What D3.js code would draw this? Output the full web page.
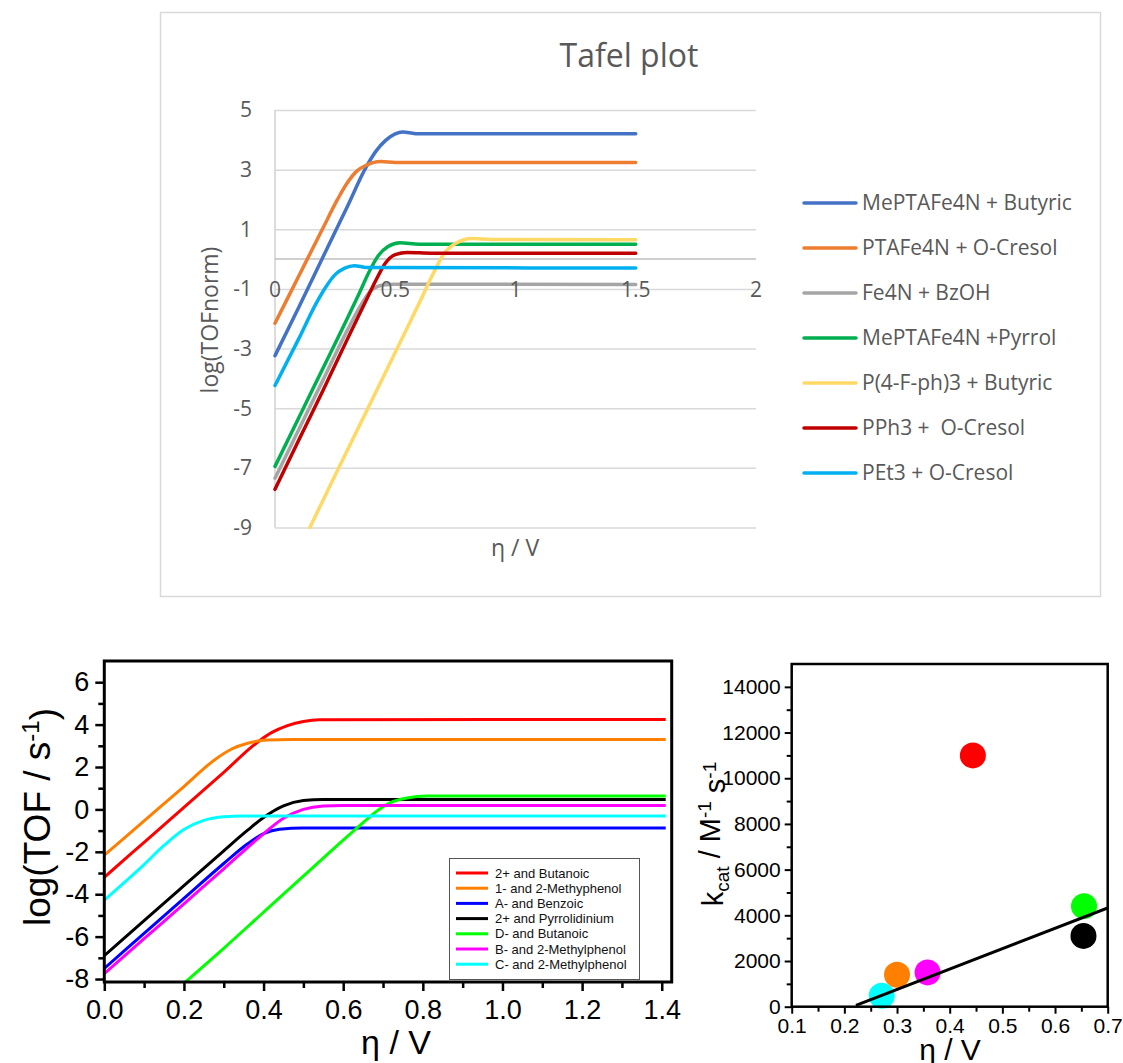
<!DOCTYPE html>
<html>
<head>
<meta charset="utf-8">
<script src="https://cdn.jsdelivr.net/npm/d3@7"></script>
<style>
  body { margin: 0; background: #fff; }
  svg { display: block; }
</style>
</head>
<body>
<div id="chart"></div>
<script>
// --- Page ---
const W = 1123, H = 1063;
const excelFont = "'Open Sans', 'Noto Sans', sans-serif";
const originFont = "'Liberation Sans', Arial, sans-serif";

// --- Data: Tafel plot (top, Excel chart) ---  [eta (V), log(TOFnorm)]
const tafelNames = [
  "MePTAFe4N + Butyric", "PTAFe4N + O-Cresol", "Fe4N + BzOH", "MePTAFe4N +Pyrrol",
  "P(4-F-ph)3 + Butyric", "PPh3 +  O-Cresol", "PEt3 + O-Cresol"
];
const tafelColors = ["#4472C4", "#ED7D31", "#A5A5A5", "#00B050", "#FFD966", "#C00000", "#00B0F0"];
const tafelMePTAButyric = [[0,-3.24],[0.1,-1.6],[0.2,0.08],[0.3,1.75],[0.38,3.1],[0.42,3.62],[0.46,3.98],[0.5,4.2],[0.53,4.26],[0.6,4.2],[1.5,4.2]];
const tafelPTACresol    = [[0,-2.15],[0.1,-0.55],[0.2,1.05],[0.26,2.0],[0.3,2.55],[0.34,2.95],[0.38,3.15],[0.44,3.27],[0.5,3.24],[1.5,3.24]];
const tafelFe4NBzOH     = [[0,-7.35],[0.1,-5.7],[0.2,-4.05],[0.3,-2.4],[0.36,-1.5],[0.4,-1.05],[0.45,-0.87],[0.5,-0.84],[1.5,-0.85]];
const tafelMePTAPyrrol  = [[0,-6.95],[0.1,-5.3],[0.2,-3.65],[0.3,-2.0],[0.35,-1.15],[0.39,-0.45],[0.43,0.12],[0.47,0.42],[0.52,0.55],[0.6,0.5],[1.5,0.5]];
const tafelPFphButyric  = [[0.145,-9],[0.25,-7.25],[0.35,-5.6],[0.45,-3.95],[0.55,-2.3],[0.61,-1.3],[0.66,-0.45],[0.7,0.15],[0.75,0.52],[0.82,0.69],[0.9,0.66],[1.5,0.65]];
const tafelPPh3Cresol   = [[0,-7.72],[0.1,-6.05],[0.2,-4.4],[0.3,-2.7],[0.375,-1.45],[0.42,-0.7],[0.46,-0.12],[0.5,0.15],[0.55,0.22],[0.65,0.2],[1.5,0.2]];
const tafelPEt3Cresol   = [[0,-4.24],[0.1,-2.65],[0.17,-1.5],[0.21,-0.95],[0.25,-0.52],[0.29,-0.3],[0.33,-0.22],[0.38,-0.28],[1.5,-0.3]];
const tafelSeries = [tafelMePTAButyric, tafelPTACresol, tafelFe4NBzOH, tafelMePTAPyrrol,
                     tafelPFphButyric, tafelPPh3Cresol, tafelPEt3Cresol];
const tafelYTicks = [-9, -7, -5, -3, -1, 1, 3, 5];
const tafelXTicks = [0, 0.5, 1, 1.5, 2];

// --- Data: log(TOF) vs eta (bottom left, Origin chart) ---
const tofNames = [
  "2+ and Butanoic", "1- and 2-Methyphenol", "A- and Benzoic", "2+ and Pyrrolidinium",
  "D- and Butanoic", "B- and 2-Methylphenol", "C- and 2-Methylphenol"
];
const tofColors = ["#FF0000", "#FF8000", "#0000FF", "#000000", "#00FF00", "#FF00FF", "#00FFFF"];
const tofButanoic2p   = [[0,-3.2],[0.1,-1.55],[0.2,0.1],[0.3,1.75],[0.38,3.1],[0.42,3.62],[0.46,3.95],[0.5,4.15],[0.54,4.23],[1.41,4.24]];
const tofMethyphenol1 = [[0,-2.16],[0.1,-0.54],[0.2,1.08],[0.28,2.38],[0.32,2.85],[0.36,3.12],[0.41,3.27],[0.47,3.3],[1.41,3.3]];
const tofBenzoicA     = [[0,-7.5],[0.1,-5.85],[0.2,-4.2],[0.3,-2.55],[0.36,-1.62],[0.4,-1.14],[0.44,-0.93],[0.5,-0.88],[1.41,-0.88]];
const tofPyrrolid2p   = [[0,-6.9],[0.1,-5.25],[0.2,-3.6],[0.3,-1.95],[0.36,-0.98],[0.4,-0.38],[0.45,0.17],[0.5,0.42],[0.55,0.47],[1.41,0.47]];
const tofButanoicD    = [[0.2,-8.2],[0.3,-6.55],[0.4,-4.85],[0.5,-3.15],[0.6,-1.45],[0.65,-0.62],[0.69,0.0],[0.72,0.33],[0.76,0.54],[0.81,0.63],[1.41,0.63]];
const tofMethylphB    = [[0,-7.75],[0.1,-6.1],[0.2,-4.45],[0.3,-2.8],[0.4,-1.15],[0.45,-0.42],[0.5,0.0],[0.55,0.16],[0.6,0.19],[1.41,0.19]];
const tofMethylphC    = [[0,-4.28],[0.05,-3.45],[0.1,-2.6],[0.15,-1.7],[0.2,-0.95],[0.25,-0.52],[0.3,-0.35],[0.35,-0.31],[1.41,-0.31]];
const tofSeries = [tofButanoic2p, tofMethyphenol1, tofBenzoicA, tofPyrrolid2p, tofButanoicD, tofMethylphB, tofMethylphC];
const tofYMajor = [-8, -6, -4, -2, 0, 2, 4, 6];
const tofYMinor = [-7, -5, -3, -1, 1, 3, 5];
const tofXMajor = [0, 0.2, 0.4, 0.6, 0.8, 1.0, 1.2, 1.4];
const tofXMinor = [0.1, 0.3, 0.5, 0.7, 0.9, 1.1, 1.3];

// --- Data: kcat vs eta (bottom right) ---
const kcatColors = ["#FF0000", "#FF8000", "#FF00FF", "#00FFFF", "#00FF00", "#000000"];
const kcatEta    = [0.444, 0.300, 0.358, 0.271, 0.655, 0.654];
const kcatValues = [11000, 1400, 1500, 480, 4400, 3100];
const fitEta  = [0.222, 0.70];
const fitKcat = [60, 4320];
const kcatYMajor = [0, 2000, 4000, 6000, 8000, 10000, 12000, 14000];
const kcatYMinor = [1000, 3000, 5000, 7000, 9000, 11000, 13000];
const kcatXMajor = [0.1, 0.2, 0.3, 0.4, 0.5, 0.6, 0.7];
const kcatXMinor = [0.15, 0.25, 0.35, 0.45, 0.55, 0.65];

// --- SVG ---
const svg = d3.select("#chart").append("svg")
  .attr("width", W).attr("height", H)
  .attr("viewBox", `0 0 ${W} ${H}`);
svg.append("rect").attr("width", W).attr("height", H).attr("fill", "#fff");

const defs = svg.append("defs");
function addClip(id, x, y, w, h) {
  defs.append("clipPath").attr("id", id)
    .append("rect").attr("x", x).attr("y", y).attr("width", w).attr("height", h);
}

// =====================================================================
// Top: Tafel plot
// =====================================================================
(function drawTafel() {
  const g = svg.append("g");
  const grey = "#595959";

  g.append("rect")
    .attr("x", 160.5).attr("y", 12.5).attr("width", 940).attr("height", 584)
    .attr("fill", "#fff").attr("stroke", "#d9d9d9").attr("stroke-width", 1.5);

  const x = d3.scaleLinear().domain([0, 2]).range([275, 756]);
  const y = d3.scaleLinear().domain([-9, 5]).range([527.5, 110]);

  g.append("text")
    .attr("x", 629).attr("y", 67)
    .attr("text-anchor", "middle")
    .style("font-family", excelFont).style("font-size", "32px").style("fill", grey)
    .text("Tafel plot");

  // gridlines
  g.append("g")
    .call(d3.axisLeft(y).tickValues(tafelYTicks).tickSize(-(x(2) - x(0))).tickFormat(() => ""))
    .attr("transform", `translate(${x(0)},0)`)
    .call(a => a.select(".domain").remove())
    .selectAll("line").attr("stroke", "#d9d9d9").attr("stroke-width", 1.5);

  // axis lines (vertical at eta=0, horizontal at y=0)
  g.append("line")
    .attr("x1", x(0)).attr("x2", x(0)).attr("y1", y(5)).attr("y2", y(-9))
    .attr("stroke", "#d0d0d0").attr("stroke-width", 1.5);
  g.append("line")
    .attr("x1", x(0)).attr("x2", x(2)).attr("y1", y(0)).attr("y2", y(0))
    .attr("stroke", "#bfbfbf").attr("stroke-width", 1.5);

  // y tick labels
  g.append("g").selectAll("text").data(tafelYTicks).join("text")
    .attr("x", 252).attr("y", d => y(d)).attr("dy", "0.35em")
    .attr("text-anchor", "end")
    .style("font-family", excelFont).style("font-size", "21px").style("fill", grey)
    .text(d => String(d));

  // series
  const line = d3.line().x(d => x(d[0])).y(d => y(d[1])).curve(d3.curveMonotoneX);
  g.append("g").selectAll("path").data(tafelSeries).join("path")
    .attr("d", line)
    .attr("fill", "none")
    .attr("stroke", (d, i) => tafelColors[i])
    .attr("stroke-width", 3.5)
    .attr("stroke-linecap", "round")
    .attr("stroke-linejoin", "round");

  // x tick labels (sit just under the y=0 axis, over the plot)
  g.append("g").selectAll("text").data(tafelXTicks).join("text")
    .attr("x", d => x(d)).attr("y", 297)
    .attr("text-anchor", "middle")
    .style("font-family", excelFont).style("font-size", "21px").style("fill", grey)
    .text(d => String(d));

  // axis titles
  g.append("text")
    .attr("transform", "translate(218,320) rotate(-90)")
    .attr("text-anchor", "middle")
    .style("font-family", excelFont).style("font-size", "23px").style("fill", grey)
    .text("log(TOFnorm)");
  g.append("text")
    .attr("x", 515).attr("y", 556)
    .attr("text-anchor", "middle")
    .style("font-family", excelFont).style("font-size", "23px").style("fill", grey)
    .text("η / V");

  // legend
  const leg = g.append("g").selectAll("g").data(tafelNames).join("g")
    .attr("transform", (d, i) => `translate(0,${203 + i * 45})`);
  leg.append("line")
    .attr("x1", 804).attr("x2", 856)
    .attr("stroke", (d, i) => tafelColors[i]).attr("stroke-width", 3.5)
    .attr("stroke-linecap", "round");
  leg.append("text")
    .attr("x", 862).attr("dy", "0.35em")
    .style("font-family", excelFont).style("font-size", "21px").style("fill", grey)
    .style("white-space", "pre")
    .text(d => d);
})();

// =====================================================================
// Bottom left: log(TOF) vs eta
// =====================================================================
(function drawTof() {
  const g = svg.append("g");
  const left = 104.3, right = 671.7, top = 661, bottom = 982;

  const x = d3.scaleLinear().domain([0, 1.425]).range([left, right]);
  const y = d3.scaleLinear().domain([-8.14, 7]).range([bottom, top]);

  addClip("tofClip", left, top, right - left, bottom - top);
  const line = d3.line().x(d => x(d[0])).y(d => y(d[1])).curve(d3.curveMonotoneX);
  g.append("g").attr("clip-path", "url(#tofClip)")
    .selectAll("path").data(tofSeries).join("path")
    .attr("d", line)
    .attr("fill", "none")
    .attr("stroke", (d, i) => tofColors[i])
    .attr("stroke-width", 3);

  // axes (outward ticks)
  g.append("g").attr("transform", `translate(${left},0)`)
    .call(d3.axisLeft(y).tickValues(tofYMajor).tickSize(9).tickPadding(6).tickFormat(d => String(d)));
  g.append("g").attr("transform", `translate(${left},0)`)
    .call(d3.axisLeft(y).tickValues(tofYMinor).tickSize(6).tickFormat(() => ""));
  g.append("g").attr("transform", `translate(0,${bottom})`)
    .call(d3.axisBottom(x).tickValues(tofXMajor).tickSize(9).tickPadding(9).tickFormat(d => d.toFixed(1)));
  g.append("g").attr("transform", `translate(0,${bottom})`)
    .call(d3.axisBottom(x).tickValues(tofXMinor).tickSize(6).tickFormat(() => ""));
  g.selectAll(".domain").remove();
  g.selectAll(".tick line").attr("stroke", "#000").attr("stroke-width", 2.5);
  g.selectAll(".tick text")
    .style("font-family", originFont).style("font-size", "27px").style("fill", "#000");

  // frame
  g.append("rect")
    .attr("x", left).attr("y", top).attr("width", right - left).attr("height", bottom - top)
    .attr("fill", "none").attr("stroke", "#000").attr("stroke-width", 3);

  // axis titles
  const yt = g.append("text")
    .attr("transform", "translate(50,817) rotate(-90)")
    .attr("text-anchor", "middle")
    .style("font-family", originFont).style("font-size", "37px").style("fill", "#000");
  yt.append("tspan").text("log(TOF / s");
  yt.append("tspan").attr("dy", "-0.45em").style("font-size", "24px").text("-1");
  yt.append("tspan").attr("dy", "0.45em").text(")");
  g.append("text")
    .attr("x", 396).attr("y", 1054)
    .attr("text-anchor", "middle")
    .style("font-family", originFont).style("font-size", "34px").style("fill", "#000")
    .text("η / V");

  // legend
  g.append("rect")
    .attr("x", 449.5).attr("y", 858.5).attr("width", 190).attr("height", 121)
    .attr("fill", "#fff").attr("stroke", "#555").attr("stroke-width", 1);
  const leg = g.append("g").selectAll("g").data(tofNames).join("g")
    .attr("transform", (d, i) => `translate(0,${873 + i * 15.2})`);
  leg.append("line")
    .attr("x1", 456).attr("x2", 488)
    .attr("stroke", (d, i) => tofColors[i]).attr("stroke-width", 3);
  leg.append("text")
    .attr("x", 495).attr("dy", "0.35em")
    .style("font-family", originFont).style("font-size", "13px").style("fill", "#111")
    .text(d => d);
})();

// =====================================================================
// Bottom right: kcat vs eta
// =====================================================================
(function drawKcat() {
  const g = svg.append("g");
  const left = 791.7, right = 1107.7, top = 664, bottom = 1006.7;

  const x = d3.scaleLinear().domain([0.1, 0.7]).range([left, right]);
  const y = d3.scaleLinear().domain([0, 15000]).range([bottom, top]);

  addClip("kcatClip", left, top, right - left, bottom - top);
  const pts = kcatEta.map((e, i) => ({ eta: e, k: kcatValues[i], c: kcatColors[i] }));
  g.append("g").selectAll("circle").data(pts).join("circle")
    .attr("cx", d => x(d.eta)).attr("cy", d => y(d.k)).attr("r", 13)
    .attr("fill", d => d.c);

  const fit = fitEta.map((e, i) => [e, fitKcat[i]]);
  g.append("path").attr("clip-path", "url(#kcatClip)")
    .attr("d", d3.line().x(d => x(d[0])).y(d => y(d[1]))(fit))
    .attr("fill", "none").attr("stroke", "#000").attr("stroke-width", 3);

  g.append("g").attr("transform", `translate(${left},0)`)
    .call(d3.axisLeft(y).tickValues(kcatYMajor).tickSize(7).tickPadding(4).tickFormat(d => String(d)));
  g.append("g").attr("transform", `translate(${left},0)`)
    .call(d3.axisLeft(y).tickValues(kcatYMinor).tickSize(5).tickFormat(() => ""));
  g.append("g").attr("transform", `translate(0,${bottom})`)
    .call(d3.axisBottom(x).tickValues(kcatXMajor).tickSize(7).tickPadding(4).tickFormat(d => d.toFixed(1)));
  g.append("g").attr("transform", `translate(0,${bottom})`)
    .call(d3.axisBottom(x).tickValues(kcatXMinor).tickSize(5).tickFormat(() => ""));
  g.selectAll(".domain").remove();
  g.selectAll(".tick line").attr("stroke", "#000").attr("stroke-width", 2);
  g.selectAll(".tick text")
    .style("font-family", originFont).style("font-size", "21px").style("fill", "#000");

  g.append("rect")
    .attr("x", left).attr("y", top).attr("width", right - left).attr("height", bottom - top)
    .attr("fill", "none").attr("stroke", "#000").attr("stroke-width", 2.5);

  const yt = g.append("text")
    .attr("transform", "translate(723,834) rotate(-90)")
    .attr("text-anchor", "middle")
    .style("font-family", originFont).style("font-size", "29px").style("fill", "#000");
  yt.append("tspan").text("k");
  yt.append("tspan").attr("dy", "0.3em").style("font-size", "19px").text("cat");
  yt.append("tspan").attr("dy", "-0.3em").text(" / M");
  yt.append("tspan").attr("dy", "-0.45em").style("font-size", "19px").text("-1");
  yt.append("tspan").attr("dy", "0.45em").text(" s");
  yt.append("tspan").attr("dy", "-0.45em").style("font-size", "19px").text("-1");

  // reference crops this title at the bottom edge of the picture
  g.append("text")
    .attr("x", 950).attr("y", 1060)
    .attr("text-anchor", "middle")
    .style("font-family", originFont).style("font-size", "30px").style("fill", "#000")
    .text("η / V");
})();
</script>
</body>
</html>
